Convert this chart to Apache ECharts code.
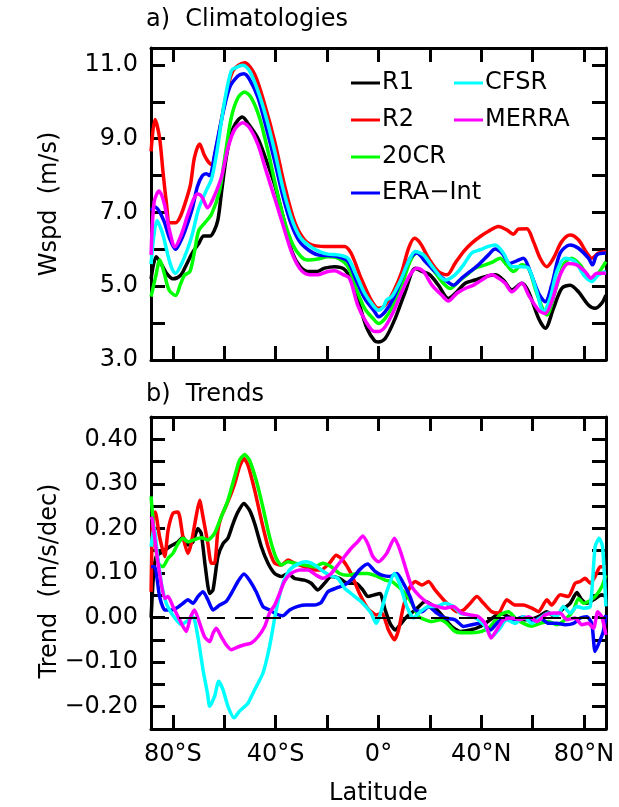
<!DOCTYPE html>
<html>
<head>
<meta charset="utf-8">
<script src="https://cdn.jsdelivr.net/npm/echarts@6/dist/echarts.min.js"></script>
<style>
html,body{margin:0;padding:0;background:#fff;}
#chart{width:619px;height:807px;}
</style>
</head>
<body>
<div id="chart"></div>
<script>
// ---- data ----
const seriesNames = ['R1', 'R2', '20CR', 'ERA\u2212Int', 'CFSR', 'MERRA'];
const seriesColors = ['#000000', '#ff0000', '#00ff00', '#0000ff', '#00ffff', '#ff00ff'];

const latTicks = [-80, -60, -40, -20, 0, 20, 40, 60, 80];
const latLabels = [-80, -40, 0, 40, 80];
const wspdTicks = [3, 4, 5, 6, 7, 8, 9, 10, 11];
const wspdLabels = [3, 5, 7, 9, 11];
const trendTicks = [-0.2, -0.15, -0.1, -0.05, 0, 0.05, 0.1, 0.15, 0.2, 0.25, 0.3, 0.35, 0.4];
const trendLabels = [-0.2, -0.1, 0, 0.1, 0.2, 0.3, 0.4];

// Climatologies [latitude, m/s]
const r1Clim = [[-88.5,5.2],[-86.5,5.8],[-84.5,5.6],[-82.5,5.35],[-80,5.2],[-77,5.3],[-75,5.55],[-72.5,5.9],[-70,6.15],[-68,6.36],[-65.5,6.36],[-64,6.5],[-62.5,6.8],[-61,7.6],[-59,8.6],[-56.5,9.3],[-53,9.59],[-50.5,9.39],[-47,9.02],[-44,8.48],[-40.4,7.75],[-37,6.85],[-33.7,5.94],[-30.5,5.53],[-27.4,5.40],[-24,5.40],[-21,5.49],[-17,5.53],[-13.5,5.47],[-11,5.22],[-7.8,4.58],[-4.5,3.86],[-1.5,3.52],[0,3.49],[2.6,3.58],[6.5,4.13],[10.4,4.85],[14.3,5.49],[16.9,5.40],[20,5.31],[23.3,5.03],[27.2,4.67],[30.5,4.85],[33.7,5.08],[37.6,5.17],[41.5,5.26],[45.4,5.31],[48.6,5.17],[51.9,4.90],[55.8,5.08],[58.4,4.85],[62.3,4.13],[64.9,3.86],[68.1,4.40],[71.3,4.94],[74.6,5.03],[77.8,4.85],[81.7,4.49],[84.3,4.40],[86.9,4.54],[88.5,4.76]];
const r2Clim = [[-88.5,8.66],[-87,9.52],[-85.2,9.02],[-83.9,8.12],[-82.6,7.30],[-81.2,6.72],[-79,6.72],[-77.4,6.85],[-75.5,7.20],[-73.2,7.75],[-71.6,8.5],[-69.6,8.86],[-67.9,8.57],[-66.5,8.40],[-65,8.3],[-63,8.8],[-60,9.93],[-56.7,10.84],[-52.1,11.06],[-48.2,10.75],[-44.3,9.93],[-40.4,8.93],[-36.6,7.75],[-32.7,6.76],[-28.8,6.26],[-24.9,6.10],[-21,6.08],[-17.1,6.08],[-13.3,6.08],[-10.7,5.90],[-6.8,5.22],[-2.9,4.63],[0,4.40],[2.6,4.49],[5.8,4.85],[9.1,5.40],[11.7,6.03],[14,6.30],[16.2,6.17],[19.5,5.76],[23.3,5.40],[26.6,5.31],[29.8,5.62],[33.1,5.94],[36.3,6.17],[39.6,6.35],[42.8,6.49],[46.7,6.62],[49.9,6.53],[52.5,6.41],[54.5,6.55],[57.7,6.56],[60.3,6.21],[62.9,5.76],[65.5,5.53],[68.1,5.76],[71.3,6.21],[74.6,6.39],[77.8,6.26],[81.1,5.90],[83,5.76],[85.6,5.90],[88.5,5.94]];
const c20Clim = [[-88.5,4.72],[-86.6,5.3],[-85.1,5.71],[-83.5,5.38],[-81.5,4.9],[-79,4.75],[-77,5.07],[-75.5,5.3],[-73.4,5.4],[-71.6,5.94],[-70,6.5],[-67.6,6.72],[-65,6.95],[-62,7.55],[-60,8.4],[-57.3,9.57],[-54.7,10.11],[-52.1,10.27],[-49.5,10.11],[-46.3,9.57],[-43,8.66],[-39.8,7.66],[-36.6,6.76],[-33.3,6.12],[-30.1,5.80],[-27.5,5.71],[-23.6,5.74],[-19.7,5.80],[-15.8,5.76],[-11.9,5.53],[-8.7,4.94],[-5.4,4.40],[-2.2,4.13],[0,3.99],[2.6,4.13],[5.8,4.49],[9.1,5.03],[12.3,5.67],[14.9,5.90],[17.5,5.76],[20.8,5.49],[24.6,5.13],[27.9,4.94],[31.1,5.13],[34.4,5.31],[37.6,5.49],[41.5,5.58],[44.8,5.67],[47.3,5.76],[49.9,5.58],[52.5,5.40],[55.8,5.58],[58.4,5.49],[61.6,4.81],[65.5,4.22],[68.7,4.85],[72,5.58],[75.2,5.76],[78.5,5.58],[82.4,5.22],[85,5.31],[88.5,5.67]];
const eraClim = [[-88.5,7.05],[-87,7.15],[-85.5,7.05],[-83.4,6.75],[-81.3,6.3],[-79,6.0],[-77.4,6.17],[-75.5,6.47],[-72.5,7.1],[-70.5,7.7],[-68.5,8.0],[-67,8.05],[-65.7,8.0],[-63.8,8.57],[-61.2,9.48],[-58,10.38],[-54.7,10.70],[-52.4,10.76],[-50.2,10.61],[-46.9,10.11],[-43.7,9.30],[-40.4,8.39],[-37.2,7.44],[-33.9,6.67],[-30.7,6.21],[-27.4,5.99],[-23.6,5.85],[-19.7,5.83],[-15.8,5.80],[-11.9,5.67],[-8.7,5.17],[-5.4,4.67],[-1.5,4.31],[0,4.17],[2.6,4.31],[5.8,4.67],[9.1,5.22],[12.3,5.76],[14.9,5.90],[18.2,5.67],[22,5.40],[25.9,5.17],[29.2,5.03],[32.4,5.22],[35.7,5.40],[38.9,5.58],[42.8,5.85],[45.4,6.01],[48,5.90],[51.2,5.62],[53.8,5.69],[56.4,5.76],[59,5.40],[62.3,4.81],[64.9,4.58],[67.4,5.03],[70.7,5.90],[74.6,6.12],[77.8,6.03],[81.7,5.76],[83.3,5.58],[85,5.85],[88.5,5.90]];
const cfsrClim = [[-88.5,5.6],[-86.2,6.78],[-84,6.42],[-82,5.85],[-80.5,5.5],[-79,5.35],[-76.7,5.6],[-74.2,6.03],[-72.5,6.4],[-70,7.1],[-67,7.6],[-65,7.9],[-63,8.6],[-59.9,10.02],[-57.3,10.84],[-55.4,10.93],[-52.8,10.99],[-50.2,10.84],[-46.9,10.29],[-43.7,9.57],[-40.4,8.66],[-37.2,7.66],[-33.9,6.85],[-30.7,6.35],[-27.4,6.12],[-23.6,5.96],[-19.7,5.87],[-15.8,5.85],[-11.9,5.76],[-8.7,5.31],[-5.4,4.81],[-2.2,4.49],[0,4.35],[1.9,4.44],[3.2,4.63],[5.2,4.72],[8.4,5.13],[11.7,5.67],[14.3,5.94],[17.5,5.85],[21.4,5.49],[25.9,5.17],[29.8,5.31],[33.1,5.58],[36.3,5.90],[39.6,5.99],[42.8,6.08],[45.4,6.12],[48.6,5.90],[51.9,5.53],[55.8,5.53],[58.4,5.49],[61.6,4.85],[64.2,4.31],[66.8,4.67],[69.4,5.40],[72.6,5.76],[76.5,5.67],[79.8,5.31],[83,5.13],[85.6,5.31],[88.5,5.40]];
const merraClim = [[-88.5,5.85],[-87.3,7.29],[-85.4,7.58],[-83.4,7.25],[-81.3,6.5],[-79.2,6.07],[-76.8,6.39],[-74.2,6.94],[-71.7,7.4],[-70.3,7.5],[-68.7,7.42],[-66.5,7.13],[-64.5,7.35],[-61.2,7.94],[-58.6,8.75],[-56,9.25],[-52.8,9.43],[-50.2,9.30],[-46.9,8.84],[-43.7,8.12],[-40.4,7.39],[-37.2,6.67],[-33.9,5.94],[-30.7,5.49],[-27.4,5.32],[-23.6,5.31],[-19.7,5.40],[-17.1,5.42],[-13.9,5.32],[-11.3,5.22],[-8.1,4.49],[-4.9,4.04],[-1.6,3.77],[0,3.77],[2.6,3.90],[5.8,4.31],[9.1,4.85],[12.3,5.31],[14.9,5.49],[17.5,5.40],[20.8,5.03],[24.6,4.76],[27.2,4.60],[30.5,4.81],[33.7,4.94],[37,5.03],[40.2,5.17],[44.1,5.31],[46.7,5.22],[49.3,5.08],[51.9,4.85],[55.8,5.08],[58.4,4.76],[62.3,4.35],[64.9,4.26],[67.4,4.58],[70.7,5.31],[73.9,5.62],[77.1,5.58],[80.4,5.40],[82.7,5.22],[85,5.35],[88.5,5.35]];

// Trends [latitude, m/s/dec]
const r1Trend = [[-88.5,0.0],[-87.5,0.10],[-86.5,0.137],[-83.9,0.148],[-81.3,0.159],[-78,0.17],[-76.1,0.181],[-74.2,0.163],[-72.2,0.17],[-70.3,0.20],[-69,0.189],[-67.4,0.114],[-65.7,0.054],[-64.4,0.062],[-62.5,0.137],[-60.5,0.166],[-58.6,0.178],[-56.6,0.211],[-54.7,0.237],[-52.4,0.256],[-50.2,0.241],[-48.2,0.211],[-45.6,0.159],[-43,0.122],[-40.4,0.099],[-37.8,0.092],[-35.2,0.099],[-32.7,0.088],[-28.8,0.084],[-26.2,0.077],[-23.6,0.062],[-21,0.077],[-18.4,0.092],[-15.2,0.088],[-11.9,0.077],[-8.7,0.077],[-6.1,0.062],[-4.1,0.047],[-1.6,0.051],[0.6,0.054],[2.6,0.017],[4.5,-0.013],[6.5,-0.028],[8.4,-0.016],[11,0.002],[14.3,0.017],[18.2,0.036],[21.4,0.025],[24.6,0.006],[28.5,-0.02],[31.8,-0.031],[35.7,-0.028],[39.6,-0.02],[43.5,-0.005],[47.3,0.01],[50.6,0.002],[54.5,-0.005],[58.4,-0.005],[62.3,0.002],[65.5,0.013],[68.7,0.002],[71.3,0.017],[74.6,0.032],[77.2,0.056],[79.1,0.04],[81.1,0.032],[83.7,0.04],[86.9,0.051],[88.5,0.047]];
const r2Trend = [[-88.5,0.058],[-87.9,0.219],[-86.9,0.237],[-85.2,0.181],[-83.2,0.137],[-81.9,0.196],[-80,0.234],[-78,0.237],[-76.1,0.181],[-74.2,0.144],[-72.9,0.166],[-71,0.226],[-69.6,0.263],[-68.3,0.226],[-66.4,0.166],[-65.1,0.122],[-63.8,0.122],[-62.5,0.196],[-61.2,0.226],[-58.6,0.26],[-56,0.30],[-54.1,0.338],[-52.4,0.357],[-50.8,0.342],[-48.2,0.286],[-45.6,0.219],[-43,0.159],[-40.4,0.122],[-37.8,0.118],[-35.2,0.129],[-32.7,0.122],[-28.8,0.114],[-24.9,0.107],[-22.3,0.107],[-19.1,0.122],[-16.5,0.14],[-13.9,0.129],[-10.7,0.099],[-7.4,0.054],[-4.2,0.021],[-0.9,0.006],[1.3,0.01],[3.9,-0.028],[6.2,-0.05],[7.8,-0.028],[9.7,0.025],[12.3,0.069],[14.3,0.081],[16.9,0.073],[19.5,0.081],[22,0.062],[25.3,0.04],[27.9,0.025],[30.5,0.013],[33.1,0.017],[35.7,0.032],[38.3,0.047],[40.9,0.032],[44.1,0.013],[46.7,0.01],[49.9,0.04],[53.2,0.028],[56.4,0.028],[59.7,0.021],[62.3,0.013],[65.5,0.04],[67.4,0.028],[70.7,0.051],[73.9,0.047],[76.5,0.077],[78.5,0.081],[80.4,0.088],[82.4,0.077],[84.3,0.092],[86.3,0.114],[88.5,0.114]];
const c20Trend = [[-88.5,0.272],[-87.4,0.196],[-85.8,0.122],[-83.9,0.114],[-81.9,0.133],[-80,0.144],[-78,0.166],[-76.1,0.178],[-74.2,0.17],[-71.6,0.175],[-69,0.179],[-66.4,0.174],[-63.8,0.189],[-61.2,0.226],[-58.6,0.263],[-56,0.316],[-54.1,0.353],[-52.1,0.366],[-50.2,0.353],[-47.6,0.308],[-45,0.248],[-42.4,0.181],[-39.8,0.133],[-37.8,0.118],[-35.2,0.125],[-32.7,0.122],[-28.8,0.118],[-24.9,0.114],[-21.7,0.122],[-18.4,0.114],[-15.2,0.099],[-11.9,0.095],[-8.1,0.099],[-4.2,0.099],[-0.3,0.092],[2.6,0.084],[5.2,0.081],[7.8,0.069],[10.4,0.054],[13,0.032],[15.6,0.002],[18.2,-0.005],[20.8,-0.009],[24,-0.005],[26.6,-0.013],[29.8,-0.031],[33.1,-0.034],[36.3,-0.034],[40.2,-0.031],[43.5,-0.02],[47.3,0.006],[50.6,0.013],[53.2,-0.001],[56.4,-0.013],[59.7,-0.019],[62.9,-0.013],[66.1,-0.009],[69.4,-0.016],[72.6,-0.005],[75.9,0.017],[77.8,0.043],[79.8,0.032],[81.7,0.036],[84.3,0.047],[86.9,0.069],[88.5,0.095]];
const eraTrend = [[-88.5,0.114],[-87.1,0.114],[-85.2,0.047],[-83.2,0.017],[-80.6,0.017],[-78.7,0.021],[-76.1,0.032],[-74.2,0.04],[-72.2,0.032],[-70.3,0.047],[-68.3,0.058],[-66.4,0.04],[-64.4,0.017],[-61.8,0.028],[-59.3,0.036],[-57.3,0.054],[-54.7,0.081],[-52.4,0.098],[-50.2,0.084],[-47.6,0.058],[-45,0.025],[-42.4,0.017],[-39.8,0.008],[-37.2,0.004],[-34.6,0.017],[-31.4,0.025],[-28.1,0.028],[-24.9,0.028],[-22.3,0.034],[-19.7,0.058],[-16.5,0.066],[-13.2,0.073],[-10,0.088],[-7.4,0.107],[-4.2,0.12],[-1.6,0.105],[1.3,0.095],[4.5,0.092],[7.1,0.099],[9.7,0.077],[12.3,0.047],[14.3,0.017],[16.9,0.013],[19.5,0.025],[22.7,0.01],[25.9,-0.001],[29.8,-0.005],[33.1,-0.02],[36.3,-0.016],[40.2,-0.013],[43.5,-0.028],[46.7,-0.009],[49.9,-0.001],[53.2,-0.005],[56.4,0.002],[59.7,-0.009],[62.9,-0.001],[66.1,-0.013],[69.4,-0.013],[72.6,-0.016],[75.9,-0.013],[78.5,-0.001],[81.1,0.002],[83,-0.013],[84.3,-0.076],[86.3,-0.05],[87.5,-0.031],[88.5,0.006]];
const cfsrTrend = [[-88.5,0.159],[-87.4,0.204],[-86.1,0.144],[-84.5,0.077],[-82.6,0.032],[-80.6,0.01],[-78.7,-0.005],[-76.8,-0.016],[-74.8,-0.009],[-72.2,0.002],[-70.3,-0.043],[-68.3,-0.117],[-66.6,-0.169],[-65.7,-0.199],[-63.8,-0.177],[-62.2,-0.143],[-60.5,-0.162],[-58.6,-0.199],[-56.2,-0.225],[-54.1,-0.21],[-50.8,-0.192],[-48.2,-0.162],[-45,-0.125],[-42.4,-0.065],[-39.8,0.017],[-37.2,0.077],[-34.6,0.107],[-31.4,0.12],[-28.1,0.125],[-24.9,0.118],[-22.3,0.107],[-19.1,0.095],[-15.8,0.088],[-13.2,0.066],[-10.7,0.054],[-6.8,0.036],[-2.9,0.01],[-0.9,-0.013],[0.6,0.006],[3.2,0.058],[6.2,0.099],[8.4,0.073],[11,0.025],[13.6,-0.001],[16.2,0.013],[19.5,0.025],[22.7,0.025],[25.9,0.032],[29.2,0.025],[31.8,0.01],[35,0.006],[38.9,-0.005],[41.5,-0.02],[44.1,-0.043],[46.7,-0.028],[49.9,-0.005],[53.2,-0.013],[56.4,0.002],[59.7,-0.013],[62.9,-0.001],[66.1,0.01],[69.4,0.002],[71.9,0.025],[74.6,0.01],[77.2,0.025],[79.8,0.021],[82.4,0.025],[84.3,0.159],[85.9,0.178],[87.2,0.159],[88.5,0.025]];
const merraTrend = [[-88.5,0.226],[-88,0.219],[-86.5,0.151],[-84.8,0.084],[-83.2,0.043],[-81.9,0.047],[-80,0.025],[-78,0.002],[-76.1,-0.02],[-74.8,-0.031],[-73.1,0.002],[-71.6,0.017],[-69.6,-0.013],[-67.7,-0.043],[-65.7,-0.054],[-64.4,-0.035],[-63.1,-0.024],[-61.2,-0.043],[-59.3,-0.061],[-57.3,-0.072],[-54.7,-0.066],[-52.1,-0.061],[-49.5,-0.057],[-46.9,-0.043],[-44.3,-0.02],[-42.4,0.01],[-40.4,0.028],[-38.5,0.054],[-36.6,0.081],[-34,0.099],[-30.7,0.107],[-27.4,0.107],[-24.2,0.095],[-21.6,0.088],[-18.4,0.099],[-15.8,0.118],[-13.2,0.137],[-10.7,0.155],[-8.1,0.17],[-6.1,0.183],[-4.2,0.166],[-2.2,0.137],[0,0.125],[3.2,0.144],[6.2,0.178],[8.4,0.151],[10.4,0.114],[13,0.069],[16.2,0.047],[19.5,0.032],[22.7,0.025],[25.9,0.021],[29.2,0.025],[32.4,0.01],[35.7,0.006],[38.9,0.002],[41.5,-0.013],[43.8,-0.046],[46,-0.028],[48.6,-0.005],[51.9,-0.001],[55.1,-0.005],[58.4,0.002],[61.6,-0.009],[64.9,0.006],[68.1,0.01],[70.7,0.01],[73.3,-0.005],[76.5,-0.001],[79.1,-0.016],[81.7,-0.013],[83.7,-0.024],[85.3,0.013],[86.9,0.002],[88.5,-0.039]];

const climData = [r1Clim, r2Clim, c20Clim, eraClim, cfsrClim, merraClim];
const trendData = [r1Trend, r2Trend, c20Trend, eraTrend, cfsrTrend, merraTrend];

// ---- chart ----
const FONT = 'DejaVu Sans';
const FS = 24;
const chart = echarts.init(document.getElementById('chart'), null, {renderer: 'canvas'});

const latFmt = v => v === 0 ? '0\u00B0' : Math.abs(v) + '\u00B0' + (v < 0 ? 'S' : 'N');

function xAxisDef(grid, pos, showLabels) {
  return {
    type: 'value', gridIndex: grid, position: pos, min: -88.54, max: 88.54,
    axisLine: {show: true, onZero: false, lineStyle: {color: '#000', width: 3}},
    axisTick: {show: true, inside: true, length: 14, customValues: latTicks, lineStyle: {color: '#000', width: 3}},
    axisLabel: {show: showLabels, customValues: latLabels, formatter: latFmt, margin: 14,
      color: '#000', fontSize: FS, fontFamily: FONT},
    splitLine: {show: false},
    name: (grid === 1 && pos === 'bottom') ? 'Latitude' : '',
    nameLocation: 'middle', nameGap: 53,
    nameTextStyle: {color: '#000', fontSize: FS, fontFamily: FONT}
  };
}
function yAxisDef(grid, pos, min, max, ticks, labels, fmt) {
  return {
    type: 'value', gridIndex: grid, position: pos, min: min, max: max,
    axisLine: {show: true, onZero: false, lineStyle: {color: '#000', width: 3}},
    axisTick: {show: true, inside: true, length: 14, customValues: ticks, lineStyle: {color: '#000', width: 3}},
    axisLabel: {show: pos === 'left', customValues: labels, formatter: fmt, margin: 13,
      color: '#000', fontSize: FS, fontFamily: FONT},
    splitLine: {show: false}
  };
}
const wFmt = v => v.toFixed(1);
const tFmt = v => (v < -1e-9 ? '\u2212' : '') + Math.abs(v).toFixed(2);

const series = [];
seriesNames.forEach((n, i) => {
  series.push({
    name: n, type: 'line', xAxisIndex: 0, yAxisIndex: 0, data: climData[i],
    showSymbol: false, symbol: 'none', smooth: 0.3,
    lineStyle: {color: seriesColors[i], width: 3.5}, itemStyle: {color: seriesColors[i]}
  });
});
seriesNames.forEach((n, i) => {
  const s = {
    name: n, type: 'line', xAxisIndex: 2, yAxisIndex: 2, data: trendData[i],
    showSymbol: false, symbol: 'none', smooth: 0.2,
    lineStyle: {color: seriesColors[i], width: 3.5}, itemStyle: {color: seriesColors[i]}
  };
  if (i === 0) {
    s.markLine = {silent: true, symbol: ['none', 'none'], label: {show: false},
      lineStyle: {color: '#000', width: 2, type: [18, 10]}, data: [{yAxis: 0}]};
  }
  series.push(s);
});

const legendPos = [[351, 71], [351, 108], [351, 145], [351, 181], [454, 71], [454, 108]];
const legends = seriesNames.map((n, i) => ({
  left: legendPos[i][0], top: legendPos[i][1], padding: 0, data: [n],
  icon: 'rect', itemWidth: 29, itemHeight: 3, selectedMode: false,
  textStyle: {color: '#000', fontSize: FS, fontFamily: FONT, padding: [0, 0, 0, -3]}
}));

chart.setOption({
  animation: false,
  backgroundColor: '#fff',
  title: [
    {text: 'a)  Climatologies', left: 146, top: 8, padding: 0,
      textStyle: {color: '#000', fontSize: FS, fontWeight: 'normal', fontFamily: FONT}},
    {text: 'b)  Trends', left: 146, top: 383, padding: 0,
      textStyle: {color: '#000', fontSize: FS, fontWeight: 'normal', fontFamily: FONT}}
  ],
  legend: legends,
  grid: [
    {left: 151, top: 48, width: 455, height: 312, show: false},
    {left: 151, top: 417, width: 455, height: 312, show: false}
  ],
  xAxis: [
    xAxisDef(0, 'bottom', false), xAxisDef(0, 'top', false),
    xAxisDef(1, 'bottom', true), xAxisDef(1, 'top', false)
  ],
  yAxis: [
    yAxisDef(0, 'left', 3, 11.46, wspdTicks, wspdLabels, wFmt),
    yAxisDef(0, 'right', 3, 11.46, wspdTicks, wspdLabels, wFmt),
    yAxisDef(1, 'left', -0.25, 0.45, trendTicks, trendLabels, tFmt),
    yAxisDef(1, 'right', -0.25, 0.45, trendTicks, trendLabels, tFmt)
  ],
  graphic: [
    {type: 'text', x: 50, y: 204, rotation: Math.PI / 2,
      style: {text: 'Wspd  (m/s)', font: FS + 'px "' + FONT + '"', fill: '#000', textAlign: 'center', textVerticalAlign: 'middle'}},
    {type: 'text', x: 50, y: 581, rotation: Math.PI / 2,
      style: {text: 'Trend  (m/s/dec)', font: FS + 'px "' + FONT + '"', fill: '#000', textAlign: 'center', textVerticalAlign: 'middle'}}
  ],
  series: series
});
</script>
</body>
</html>
